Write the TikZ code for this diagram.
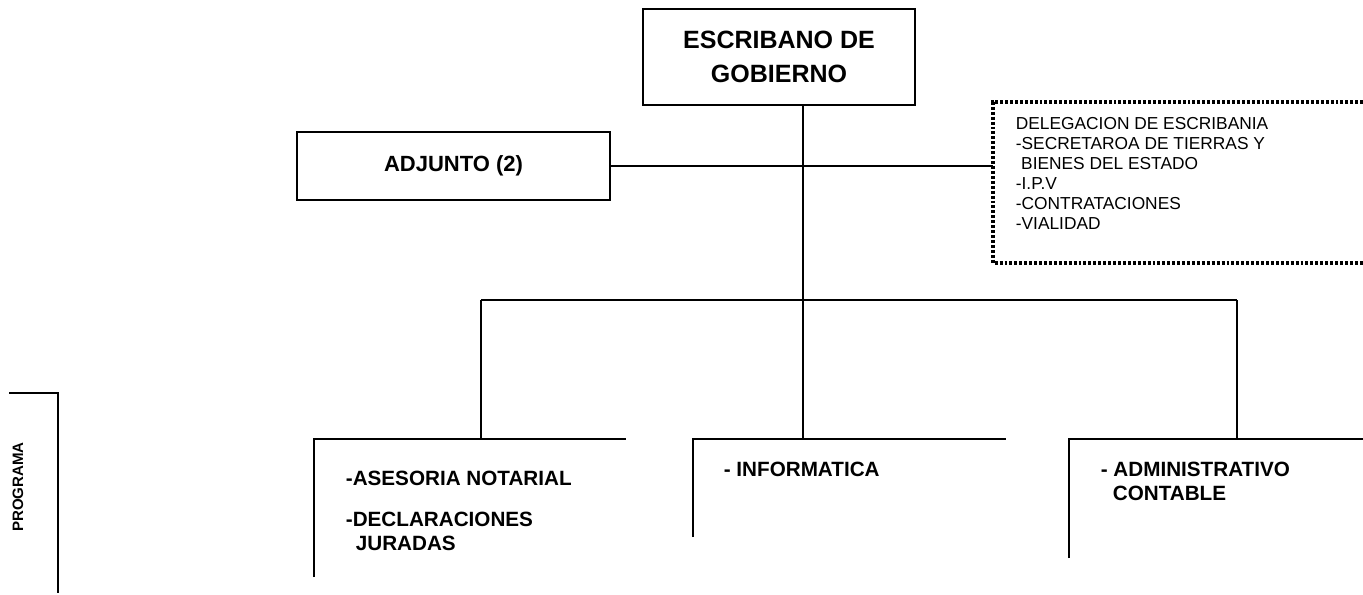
\documentclass[tikz,border=0pt]{standalone}
\usepackage{fontspec}
\setmainfont{Liberation Sans}
\usetikzlibrary{positioning,calc}
\tikzset{%
    jefe/.style={draw, line width=2pt, minimum width=204pt, minimum height=72pt, align=center, font=\bfseries\fontsize{18.75}{25.5}\selectfont},
    caja/.style={draw, line width=1.3pt, minimum width=234.75pt, minimum height=51pt, font=\bfseries\fontsize{16.5}{19}\selectfont},
    punteado/.style={line width=2.4pt, dash pattern=on 2.2pt off 1.5pt},
}
\tikzstyle{area}=[inner sep=0pt, outer sep=0pt]
\tikzstyle{texto}=[align=left, inner sep=0pt, font=\bfseries\fontsize{15.5}{18}\selectfont]
\tikzstyle{lista}=[align=left, inner sep=0pt, font=\fontsize{13}{15}\selectfont]

\begin{document}
\begin{tikzpicture}[x=0.75pt,y=-0.75pt,line width=1.3pt]
    \useasboundingbox (0,0) rectangle (1363,595);
    % nivel superior
    \node [jefe] (escribano) at (779,57) {ESCRIBANO DE\\GOBIERNO};
    \node [caja] (adjunto) at (453.5,166) {ADJUNTO (2)};
    \node [area, minimum width=285pt, minimum height=120.75pt] (delegacion) at (1183,182.5) {};
    \draw [punteado] (delegacion.north east) -- (delegacion.north west) -- (delegacion.south west) -- (delegacion.south east);
    \node [lista, below right=11.25pt and 16.5pt of delegacion.north west] (delegtexto) {DELEGACION DE ESCRIBANIA\\-SECRETAROA DE TIERRAS Y\\\hspace{4pt}BIENES DEL ESTADO\\-I.P.V\\-CONTRATACIONES\\-VIALIDAD};
    \coordinate (bus) at (803,300);
    \coordinate (busizq) at (481,300);
    \coordinate (busder) at (1237,300);
    \draw (escribano.south -| bus) -- (bus);
    \draw (adjunto.east) -- (adjunto.east -| delegacion.west);
    \draw (busizq) -- (busder);
    % programa
    \node [area, minimum width=234pt, minimum height=103.5pt] (notarial) at (470,508) {};
    \node [area, minimum width=234.75pt, minimum height=73.5pt] (informatica) at (849.5,488) {};
    \node [area, minimum width=234pt, minimum height=89.25pt] (contable) at (1225,498.5) {};
    \draw (notarial.south west) -- (notarial.north west) -- (notarial.north east);
    \draw (informatica.south west) -- (informatica.north west) -- (informatica.north east);
    \draw (contable.south west) -- (contable.north west) -- (contable.north east);
    \draw (busizq) -- (busizq |- notarial.north);
    \draw (bus) -- (bus |- informatica.north);
    \draw (busder) -- (busder |- contable.north);
    \node [texto, below right=23.25pt and 23.25pt of notarial.north west] (notarialtexto) {-ASESORIA NOTARIAL\\[12.75pt]-DECLARACIONES\\\hspace{7.5pt}JURADAS};
    \node [texto, below right=16.5pt and 22.5pt of informatica.north west] (informaticatexto) {- INFORMATICA};
    \node [texto, below right=16.5pt and 23.25pt of contable.north west] (contabletexto) {- ADMINISTRATIVO\\\hspace{9pt}CONTABLE};
    \node [rotate=90, font=\bfseries\fontsize{11.3}{13}\selectfont] (programa) at (18,487) {PROGRAMA};
    \coordinate (progarriba) at (9,393);
    \coordinate (progabajo) at (58,593);
    \draw (progarriba) -- (progarriba -| progabajo) -- (progabajo);
\end{tikzpicture}
\end{document}
